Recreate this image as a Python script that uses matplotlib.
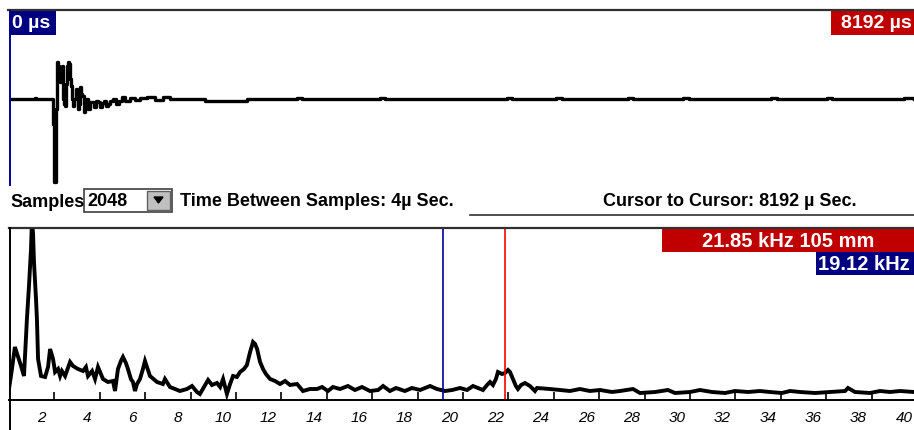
import numpy as np
import matplotlib.pyplot as plt
from matplotlib.patches import Rectangle, Polygon
from matplotlib.lines import Line2D
from matplotlib.transforms import ScaledTranslation

# time waveform (us, relative amplitude)
wave_t = [0, 227, 236, 272, 381, 390, 399, 408, 417, 426, 435, 444, 453, 462, 471, 480,
          489, 498, 507, 517, 526, 535, 544, 553, 562, 571, 580, 598, 607, 616, 625, 634,
          643, 652, 671, 680, 689, 707, 725, 743, 761, 779, 797, 816, 834, 852, 870, 888,
          906, 933, 961, 988, 1015, 1042, 1087, 1133, 1178, 1241, 1314, 1386, 1450, 1767,
          1994, 2150, 2600, 2650, 3350, 3400, 4500, 4550, 4950, 5000, 5600, 5650, 6100,
          6150, 6900, 6950, 7400, 7450, 8100, 8192]
wave_v = [0, 1, 0, 0, 0, -25, -83, -83, -10, 37, 33, 22, 17, 25, 33, 0,
          -5, -7, 15, 33, 37, 35, 20, 13, 0, -7, 0, 10, 5, -10, -5, 12,
          5, 3, -13, -8, 0, -10, -3, -3, -8, -2, -3, -8, -4, -2, -7, -5,
          -2, 0, -5, -2, 2, -2, 1, -1, 1, 2, -1, 2, 0, -2,
          -2, 0, 1, 0, 1, 0, 1, 0, 1, 0, 1, 0, 1,
          0, 1, 0, 1, 0, 1, 0]

# spectrum (kHz, relative amplitude)
freq = [0.0, 0.13, 0.26, 0.40, 0.53, 0.66, 0.79, 0.88, 0.97, 1.01, 1.06, 1.10, 1.19, 1.23,
        1.28, 1.41, 1.59, 1.72, 1.81, 1.94, 2.03, 2.16, 2.25, 2.33, 2.47, 2.69, 2.82, 3.04,
        3.26, 3.39, 3.48, 3.66, 3.79, 3.92, 4.14, 4.36, 4.58, 4.67, 4.80, 4.93, 5.02, 5.15,
        5.24, 5.37, 5.46, 5.55, 5.64, 5.77, 5.90, 5.99, 6.08, 6.21, 6.52, 6.78, 6.87, 7.09,
        7.53, 7.84, 8.06, 8.28, 8.41, 8.59, 8.77, 8.94, 9.16, 9.30, 9.43, 9.60, 9.74, 9.87,
        10.04, 10.18, 10.35, 10.48, 10.62, 10.75, 10.84, 10.93, 11.06, 11.19, 11.32, 11.50,
        11.72, 11.94, 12.16, 12.38, 12.69, 12.95, 13.26, 13.57, 13.79, 14.05, 14.27, 14.58,
        14.93, 15.24, 15.55, 15.90, 16.26, 16.48, 16.78, 17.05, 17.44, 17.75, 18.11, 18.55,
        18.85, 19.21, 19.52, 19.87, 20.18, 20.44, 20.66, 20.88, 21.06, 21.19, 21.32, 21.45,
        21.54, 21.72, 21.85, 21.98, 22.07, 22.20, 22.33, 22.42, 22.56, 22.73, 22.95, 23.17,
        23.26, 23.83, 24.27, 24.71, 25.15, 25.59, 26.04, 26.56, 26.92, 27.49, 27.80, 28.46,
        29.03, 29.34, 30.00, 30.44, 30.97, 31.54, 31.98, 32.56, 33.08, 33.52, 34.05, 34.41,
        34.85, 35.51, 36.17, 36.83, 36.96, 37.27, 37.93, 38.37, 38.81, 39.25, 39.87]
amp = [11, 31, 53, 43, 34, 24, 81, 114, 151, 180, 166, 138, 101, 81,
       41, 24, 23, 33, 51, 41, 28, 31, 24, 29, 24, 38, 34, 31,
       29, 33, 24, 29, 21, 33, 21, 18, 19, 9, 31, 39, 43, 37,
       31, 21, 18, 9, 16, 21, 31, 39, 33, 24, 18, 16, 21, 13,
       9, 11, 14, 8, 6, 13, 20, 15, 17, 13, 21, 6, 16, 24,
       23, 28, 31, 35, 48, 58, 56, 51, 38, 31, 26, 21,
       19, 16, 19, 15, 16, 9, 11, 11, 13, 9, 13, 11,
       14, 10, 13, 9, 10, 14, 9, 12, 9, 12, 10, 14,
       11, 9, 10, 12, 10, 14, 12, 10, 15, 18, 15, 21,
       28, 26, 27, 30, 28, 21, 14, 11, 15, 17, 14, 9,
       12, 11, 10, 9, 11, 9, 10, 8, 9, 11, 7, 8,
       10, 7, 8, 10, 8, 7, 9, 8, 9, 8, 7, 9,
       8, 7, 8, 9, 12, 8, 7, 9, 8, 9, 8]

tick_vals = list(range(2, 42, 2))
cursor_blue = 19.12
cursor_red = 21.85

W, H = 914, 431
fig = plt.figure(figsize=(W / 100, H / 100), dpi=100)
fig.patch.set_facecolor('white')
FONT = 'Liberation Sans'


def fx(x):
    return x / W


def fy(y):
    return 1 - y / H


def box(x0, y0, x1, y1, color, **kw):
    fig.add_artist(Rectangle((fx(x0), fy(y1)), fx(x1) - fx(x0), fy(y0) - fy(y1),
                             transform=fig.transFigure, facecolor=color,
                             edgecolor=kw.pop('ec', 'none'), lw=kw.pop('lw', 0), **kw))


def hline(y, x0, x1, color='black', lw=1.2):
    fig.add_artist(Line2D([fx(x0), fx(x1)], [fy(y), fy(y)], color=color, lw=lw,
                          transform=fig.transFigure))


def vline(x, y0, y1, color='black', lw=1.2):
    fig.add_artist(Line2D([fx(x), fx(x)], [fy(y0), fy(y1)], color=color, lw=lw,
                          transform=fig.transFigure))


# ---- top panel: time waveform
ax1 = fig.add_axes([fx(10), fy(188), fx(914) - fx(10), fy(12) - fy(188)])
ax1.plot(wave_t, wave_v, color='black', lw=2.4, drawstyle='steps-post')
ax1.set_xlim(0, 8192)
ax1.set_ylim(-88, 88)
ax1.axis('off')

hline(11, 8, 914, color='#303030', lw=1.6)
vline(9.5, 12, 186, color='#000090', lw=1.4)

box(9, 12, 56, 36, '#000080')
fig.text(fx(12), fy(24), '0 µs', color='white', fontsize=14, fontweight='bold',
         family=FONT, va='center', ha='left')
box(831, 12, 914, 36, '#C00000')
fig.text(fx(912), fy(24), '8192 µs', color='white', fontsize=14, fontweight='bold',
         family=FONT, va='center', ha='right')

# ---- control row
fig.text(fx(10), fy(203), 'Samples', fontsize=13, fontweight='bold', family=FONT,
         va='center', ha='left')
box(84, 190, 172, 213, 'white', ec='#404040', lw=1.2)
box(147, 192, 170, 211, '#C0C0C0', ec='#606060', lw=1.0)
fig.add_artist(Polygon([[fx(154), fy(198)], [fx(163), fy(198)], [fx(158.5), fy(204)]],
                       closed=True, transform=fig.transFigure, color='black'))
fig.text(fx(87), fy(201), '2048', fontsize=13, fontweight='bold', family=FONT,
         va='center', ha='left')
fig.text(fx(180), fy(201), 'Time Between Samples: 4µ Sec.', fontsize=13,
         fontweight='bold', family=FONT, va='center', ha='left')
fig.text(fx(603), fy(201), 'Cursor to Cursor: 8192 µ Sec.', fontsize=13,
         fontweight='bold', family=FONT, va='center', ha='left')

hline(216, 470, 914, color='#303030', lw=1.2)
hline(229, 9, 914, color='#303030', lw=1.6)
vline(9.5, 229, 431, color='black', lw=1.4)

# ---- bottom panel: spectrum
x_right = 9 + 40 * 22.7
ax2 = fig.add_axes([fx(9), fy(401), fx(x_right) - fx(9), fy(230) - fy(401)])
ax2.plot(freq, amp, color='black', lw=2.8, solid_joinstyle='miter')
ax2.axvline(cursor_blue, color='#0000A0', lw=1.2)
ax2.axvline(cursor_red, color='#FF0000', lw=1.2)
ax2.set_xlim(0, 40)
ax2.set_ylim(0, 171)
for s in ['top', 'right', 'left']:
    ax2.spines[s].set_visible(False)
ax2.spines['bottom'].set_linewidth(1.4)
ax2.set_yticks([])
ax2.set_xticks(tick_vals)
ax2.set_xticklabels([])
ax2.tick_params(axis='x', direction='in', length=6, width=1.2)
off = ScaledTranslation(-13 / 100, -17 / 100, fig.dpi_scale_trans)
for t in tick_vals:
    ax2.text(t, 0, str(t), transform=ax2.get_xaxis_transform() + off,
             fontsize=11, style='italic', family=FONT, ha='center', va='center')

box(662, 230, 914, 253, '#C00000')
fig.text(fx(788), fy(242), '21.85 kHz 105 mm', color='white', fontsize=14.5,
         fontweight='bold', family=FONT, va='center', ha='center')
box(816, 253, 914, 276, '#000080')
fig.text(fx(818), fy(265), '19.12 kHz', color='white', fontsize=14.5,
         fontweight='bold', family=FONT, va='center', ha='left')

fig.savefig('out.png', dpi=100)
